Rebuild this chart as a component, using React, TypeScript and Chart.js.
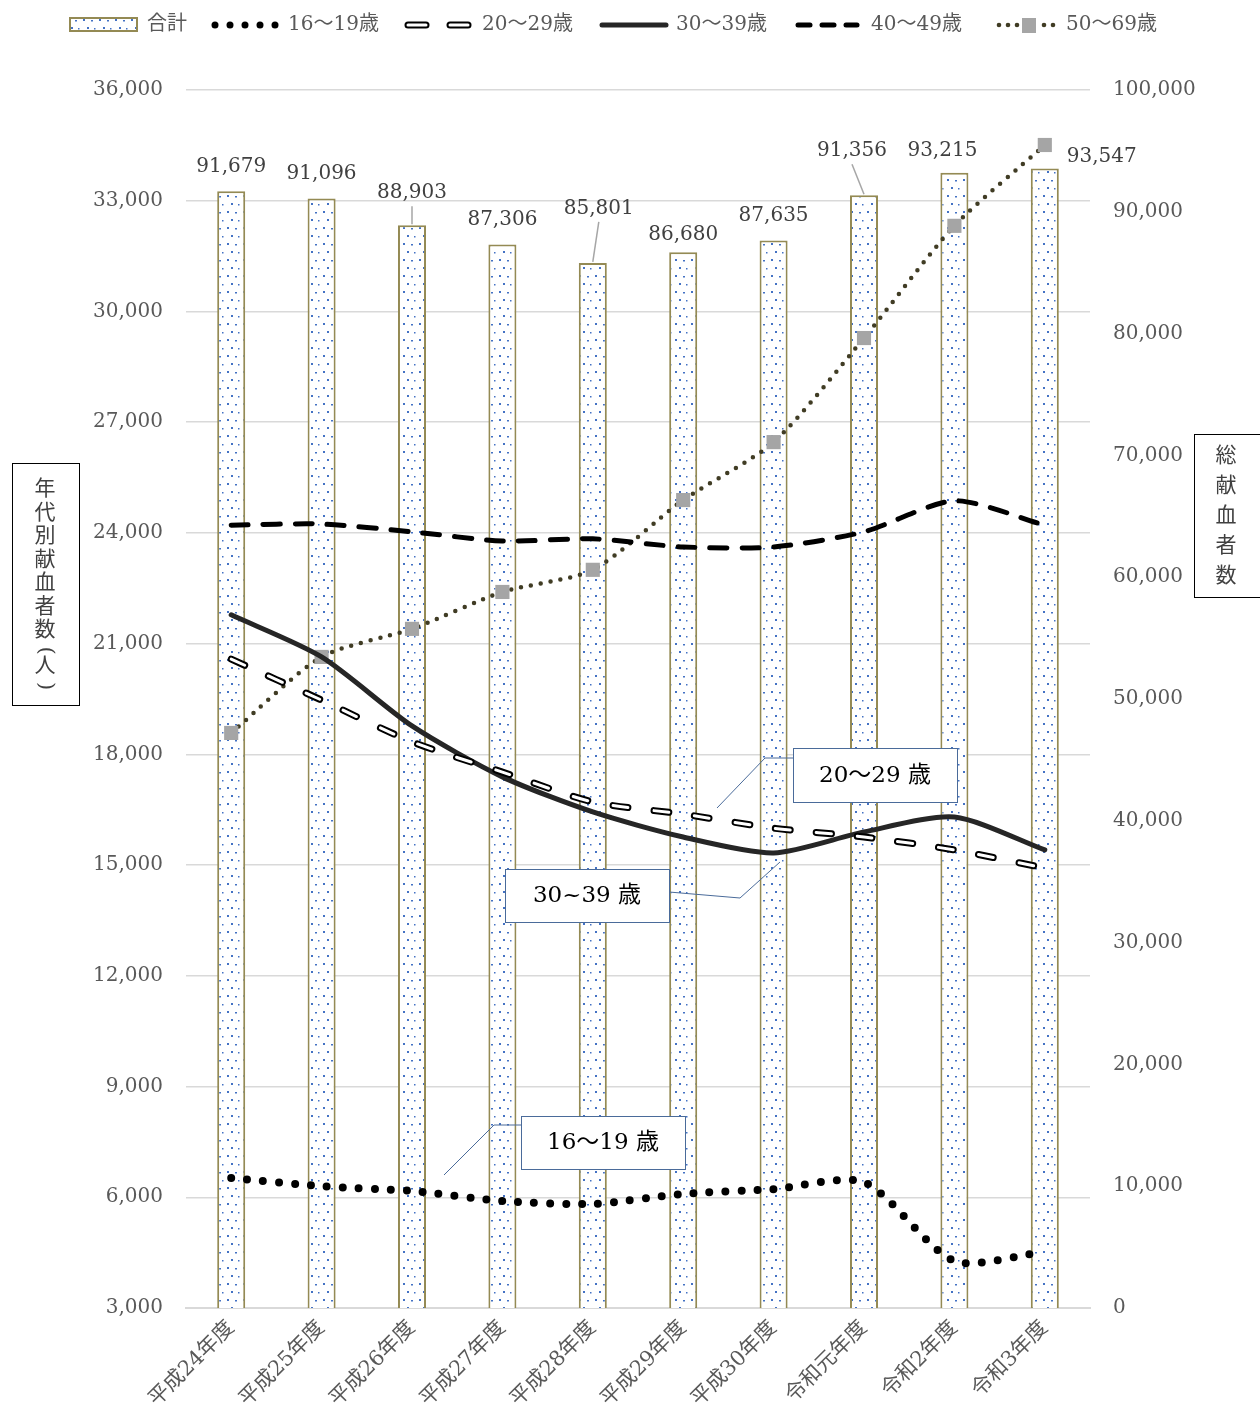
import React, { useEffect, useRef } from "react";
import { Chart, registerables } from "chart.js";

Chart.register(...registerables);

// ---------- data ----------
const categories = [
  "平成24年度", "平成25年度", "平成26年度", "平成27年度", "平成28年度",
  "平成29年度", "平成30年度", "令和元年度", "令和2年度", "令和3年度",
];
const totalDonors = [91679, 91096, 88903, 87306, 85801, 86680, 87635, 91356, 93215, 93547];
const age16to19 = [6520, 6300, 6170, 5900, 5820, 6090, 6220, 6410, 4270, 4520];
const age20to29 = [20580, 19470, 18340, 17520, 16710, 16380, 16000, 15760, 15410, 14920];
const age30to39 = [21780, 20640, 18770, 17390, 16440, 15760, 15330, 15900, 16300, 15410];
const age40to49 = [24210, 24240, 24030, 23780, 23840, 23620, 23620, 24030, 24870, 24210];
const age50to69 = [18580, 20640, 21400, 22400, 23000, 24890, 26460, 29280, 32320, 34510];

const leftAxisMin = 3000;
const leftAxisMax = 36000;
const leftAxisStep = 3000;
const rightAxisMin = 0;
const rightAxisMax = 100000;
const rightAxisStep = 10000;

const seriesNames = ["合計", "16～19歳", "20～29歳", "30～39歳", "40～49歳", "50～69歳"];
const leftAxisTitle = ["年", "代", "別", "献", "血", "者", "数", "(", "人", ")"];
const rightAxisTitle = ["総", "献", "血", "者", "数"];
const calloutTexts = ["20～29 歳", "30~39 歳", "16～19 歳"];

// ---------- layout / style ----------
const W = 1260;
const H = 1423;
const PLOT_TOP = 88;
const PLOT_BOTTOM = 1306;
const PLOT_LEFT = 186;
const PLOT_RIGHT = 1090;
const SERIF = "'DejaVu Serif', 'Noto Sans CJK JP', serif";
const GRAY_TEXT = "#595959";
const BAR_BORDER = "#948A54";
const OLIVE_DOT = "#403C24";

// label offsets (dx, dy) relative to the top centre of each bar
const labelOffsets: [number, number][] = [
  [0, -26], [0, -26], [0, -33], [0, -26], [6, -55],
  [0, -18], [0, -26], [-12, -45], [-12, -23], [57, -13],
];
const labelLeaders = [false, false, true, false, true, false, false, true, false, false];

const calloutLayout = [
  { box: [793, 748, 164, 54], line: [[717, 808], [765, 758], [793, 758]] },
  { box: [505, 869, 164, 53], line: [[669, 892], [740, 898], [780, 862]] },
  { box: [521, 1116, 164, 53], line: [[444, 1175], [494, 1125], [521, 1125]] },
];

function makePattern(): CanvasPattern | string {
  const c = document.createElement("canvas");
  c.width = 16;
  c.height = 16;
  const g = c.getContext("2d");
  if (!g) return "#fff";
  g.fillStyle = "#ffffff";
  g.fillRect(0, 0, 16, 16);
  g.fillStyle = "#4472C4";
  g.fillRect(3, 3, 2, 2);
  g.fillRect(11, 4, 2, 1.5);
  g.fillRect(7, 11, 2, 2);
  g.fillRect(14, 12, 1.5, 1.5);
  return g.createPattern(c, "repeat") || "#fff";
}

const fmt = (v: number) => v.toLocaleString("en-US");

export default function App() {
  const ref = useRef<HTMLCanvasElement | null>(null);

  useEffect(() => {
    const canvas = ref.current;
    if (!canvas) return;
    const pattern = makePattern();

    const overlay = {
      id: "overlay",
      afterDatasetsDraw(chart: any) {
        const ctx = chart.ctx as CanvasRenderingContext2D;
        const xs = chart.scales.x;
        const yr = chart.scales.y1;
        ctx.save();
        ctx.font = `20px ${SERIF}`;
        ctx.fillStyle = "#404040";
        ctx.textAlign = "center";
        ctx.textBaseline = "middle";
        totalDonors.forEach((v, i) => {
          const bx = xs.getPixelForValue(i);
          const by = yr.getPixelForValue(v);
          const [dx, dy] = labelOffsets[i];
          const lx = bx + dx;
          const ly = by + dy;
          if (labelLeaders[i]) {
            ctx.strokeStyle = "#A6A6A6";
            ctx.lineWidth = 1.5;
            ctx.beginPath();
            ctx.moveTo(lx, ly + 14);
            ctx.lineTo(bx, by - 1);
            ctx.stroke();
          }
          ctx.fillText(fmt(v), lx, ly + 1);
        });
        ctx.restore();
      },
      afterDraw(chart: any) {
        const ctx = chart.ctx as CanvasRenderingContext2D;
        ctx.save();
        // callouts
        calloutLayout.forEach((c, i) => {
          ctx.strokeStyle = "#4A6B9A";
          ctx.lineWidth = 1;
          ctx.beginPath();
          c.line.forEach(([px, py], k) => (k === 0 ? ctx.moveTo(px, py) : ctx.lineTo(px, py)));
          ctx.stroke();
          const [bx, by, bw, bh] = c.box;
          ctx.fillStyle = "#fff";
          ctx.fillRect(bx, by, bw, bh);
          ctx.strokeRect(bx + 0.5, by + 0.5, bw, bh);
          ctx.fillStyle = "#000";
          ctx.font = `23px ${SERIF}`;
          ctx.textAlign = "center";
          ctx.textBaseline = "middle";
          ctx.fillText(calloutTexts[i], bx + bw / 2, by + bh / 2 + 1);
        });

        // axis title boxes
        ctx.strokeStyle = "#000";
        ctx.lineWidth = 1;
        ctx.strokeRect(12.5, 463.5, 67, 242);
        ctx.strokeRect(1194.5, 434.5, 66, 163);
        ctx.fillStyle = "#404040";
        ctx.font = `21px ${SERIF}`;
        ctx.textAlign = "center";
        ctx.textBaseline = "middle";
        let ty = 490;
        leftAxisTitle.forEach((ch) => {
          if (ch === "(" || ch === ")") {
            ctx.save();
            ctx.translate(45, ty - 4);
            ctx.rotate(Math.PI / 2);
            ctx.fillText(ch, 0, 0);
            ctx.restore();
            ty += 12;
          } else {
            ctx.fillText(ch, 45, ty);
            ty += 23.5;
          }
        });
        rightAxisTitle.forEach((ch, i) => ctx.fillText(ch, 1226, 457 + i * 30));

        // legend
        const ly = 25;
        ctx.textAlign = "left";
        ctx.font = `20px ${SERIF}`;
        ctx.fillStyle = pattern as any;
        ctx.fillRect(70, 18, 67, 13);
        ctx.strokeStyle = BAR_BORDER;
        ctx.lineWidth = 2;
        ctx.strokeRect(70, 18, 67, 13);
        ctx.fillStyle = GRAY_TEXT;
        ctx.fillText(seriesNames[0], 147, ly);
        ctx.fillStyle = "#000";
        for (let k = 0; k < 5; k++) {
          ctx.beginPath();
          ctx.arc(215 + k * 15, ly, 3.5, 0, Math.PI * 2);
          ctx.fill();
        }
        ctx.fillStyle = GRAY_TEXT;
        ctx.fillText(seriesNames[1], 288, ly);
        ctx.lineCap = "round";
        [[408, 426], [450, 468]].forEach(([a, b]) => {
          ctx.strokeStyle = "#000";
          ctx.lineWidth = 7;
          ctx.beginPath();
          ctx.moveTo(a, ly);
          ctx.lineTo(b, ly);
          ctx.stroke();
          ctx.strokeStyle = "#fff";
          ctx.lineWidth = 3;
          ctx.beginPath();
          ctx.moveTo(a, ly);
          ctx.lineTo(b, ly);
          ctx.stroke();
        });
        ctx.fillStyle = GRAY_TEXT;
        ctx.fillText(seriesNames[2], 482, ly);
        ctx.strokeStyle = "#262626";
        ctx.lineWidth = 5;
        ctx.beginPath();
        ctx.moveTo(602, ly);
        ctx.lineTo(666, ly);
        ctx.stroke();
        ctx.fillText(seriesNames[3], 676, ly);
        ctx.strokeStyle = "#000";
        ctx.lineWidth = 5;
        [[798, 810], [822, 834], [846, 857]].forEach(([a, b]) => {
          ctx.beginPath();
          ctx.moveTo(a, ly);
          ctx.lineTo(b, ly);
          ctx.stroke();
        });
        ctx.fillText(seriesNames[4], 871, ly);
        ctx.fillStyle = OLIVE_DOT;
        [999, 1008, 1017, 1044, 1053].forEach((px) => {
          ctx.beginPath();
          ctx.arc(px, ly, 2.3, 0, Math.PI * 2);
          ctx.fill();
        });
        ctx.fillStyle = "#A5A5A5";
        ctx.fillRect(1022, ly - 7, 14, 15);
        ctx.fillStyle = GRAY_TEXT;
        ctx.fillText(seriesNames[5], 1066, ly);
        ctx.restore();
      },
    };

    const lineCommon = {
      type: "line" as const,
      yAxisID: "y",
      fill: false,
      tension: 0.25,
      pointRadius: 0,
      pointHoverRadius: 0,
      borderCapStyle: "round" as const,
    };

    const chart = new Chart(canvas, {
      type: "bar",
      data: {
        labels: categories,
        datasets: [
          {
            type: "bar",
            label: seriesNames[0],
            data: totalDonors,
            yAxisID: "y1",
            backgroundColor: pattern as any,
            borderColor: BAR_BORDER,
            borderWidth: 2,
            barPercentage: 0.31,
            categoryPercentage: 1,
            order: 10,
          },
          {
            ...lineCommon,
            label: seriesNames[5],
            data: age50to69,
            borderColor: OLIVE_DOT,
            borderWidth: 4.5,
            borderDash: [0, 10],
            pointStyle: "rect",
            pointRadius: 10,
            pointBackgroundColor: "#A5A5A5",
            pointBorderWidth: 0,
            order: 6,
          } as any,
          {
            ...lineCommon,
            label: seriesNames[4],
            data: age40to49,
            borderColor: "#000",
            borderWidth: 5,
            borderDash: [17, 15],
            order: 5,
          },
          {
            ...lineCommon,
            label: seriesNames[3],
            data: age30to39,
            borderColor: "#262626",
            borderWidth: 5,
            order: 4,
          },
          {
            ...lineCommon,
            label: seriesNames[2],
            data: age20to29,
            borderColor: "#000",
            borderWidth: 7,
            borderDash: [15, 26],
            order: 3,
          },
          {
            ...lineCommon,
            label: seriesNames[2] + "-inner",
            data: age20to29,
            borderColor: "#fff",
            borderWidth: 3,
            borderDash: [15, 26],
            order: 2,
          },
          {
            ...lineCommon,
            label: seriesNames[1],
            data: age16to19,
            borderColor: "#000",
            borderWidth: 8,
            borderDash: [0, 16],
            order: 1,
          },
        ],
      },
      options: {
        responsive: false,
        devicePixelRatio: 1,
        animation: false,
        events: [],
        layout: { padding: { top: PLOT_TOP + 2, left: 0, right: 0, bottom: 0 } },
        plugins: {
          legend: { display: false },
          tooltip: { enabled: false },
        },
        scales: {
          x: {
            grid: { display: false, drawTicks: false },
            border: { display: true, color: "#D9D9D9", width: 2 },
            ticks: {
              color: GRAY_TEXT,
              font: { family: SERIF, size: 21 },
              minRotation: 45,
              maxRotation: 45,
              padding: 8,
              autoSkip: false,
            },
            afterFit: (s: any) => {
              s.height = H - PLOT_BOTTOM - 2;
            },
          },
          y: {
            position: "left",
            min: leftAxisMin,
            max: leftAxisMax,
            grid: { color: "#D9D9D9", lineWidth: 1.5, drawTicks: false },
            border: { display: false },
            ticks: {
              stepSize: leftAxisStep,
              color: GRAY_TEXT,
              font: { family: SERIF, size: 20 },
              padding: 23,
              callback: (v: any) => fmt(Number(v)),
            },
            afterFit: (s: any) => {
              s.width = PLOT_LEFT;
            },
          },
          y1: {
            position: "right",
            min: rightAxisMin,
            max: rightAxisMax,
            grid: { display: false, drawTicks: false },
            border: { display: false },
            ticks: {
              stepSize: rightAxisStep,
              color: GRAY_TEXT,
              font: { family: SERIF, size: 20 },
              padding: 23,
              callback: (v: any) => fmt(Number(v)),
            },
            afterFit: (s: any) => {
              s.width = W - PLOT_RIGHT;
            },
          },
        },
      },
      plugins: [overlay],
    } as any);

    return () => chart.destroy();
  }, []);

  return (
    <div style={{ position: "absolute", left: 0, top: 0, width: W, height: H, background: "#fff" }}>
      <canvas ref={ref} width={W} height={H} style={{ display: "block", width: W, height: H }} />
    </div>
  );
}
